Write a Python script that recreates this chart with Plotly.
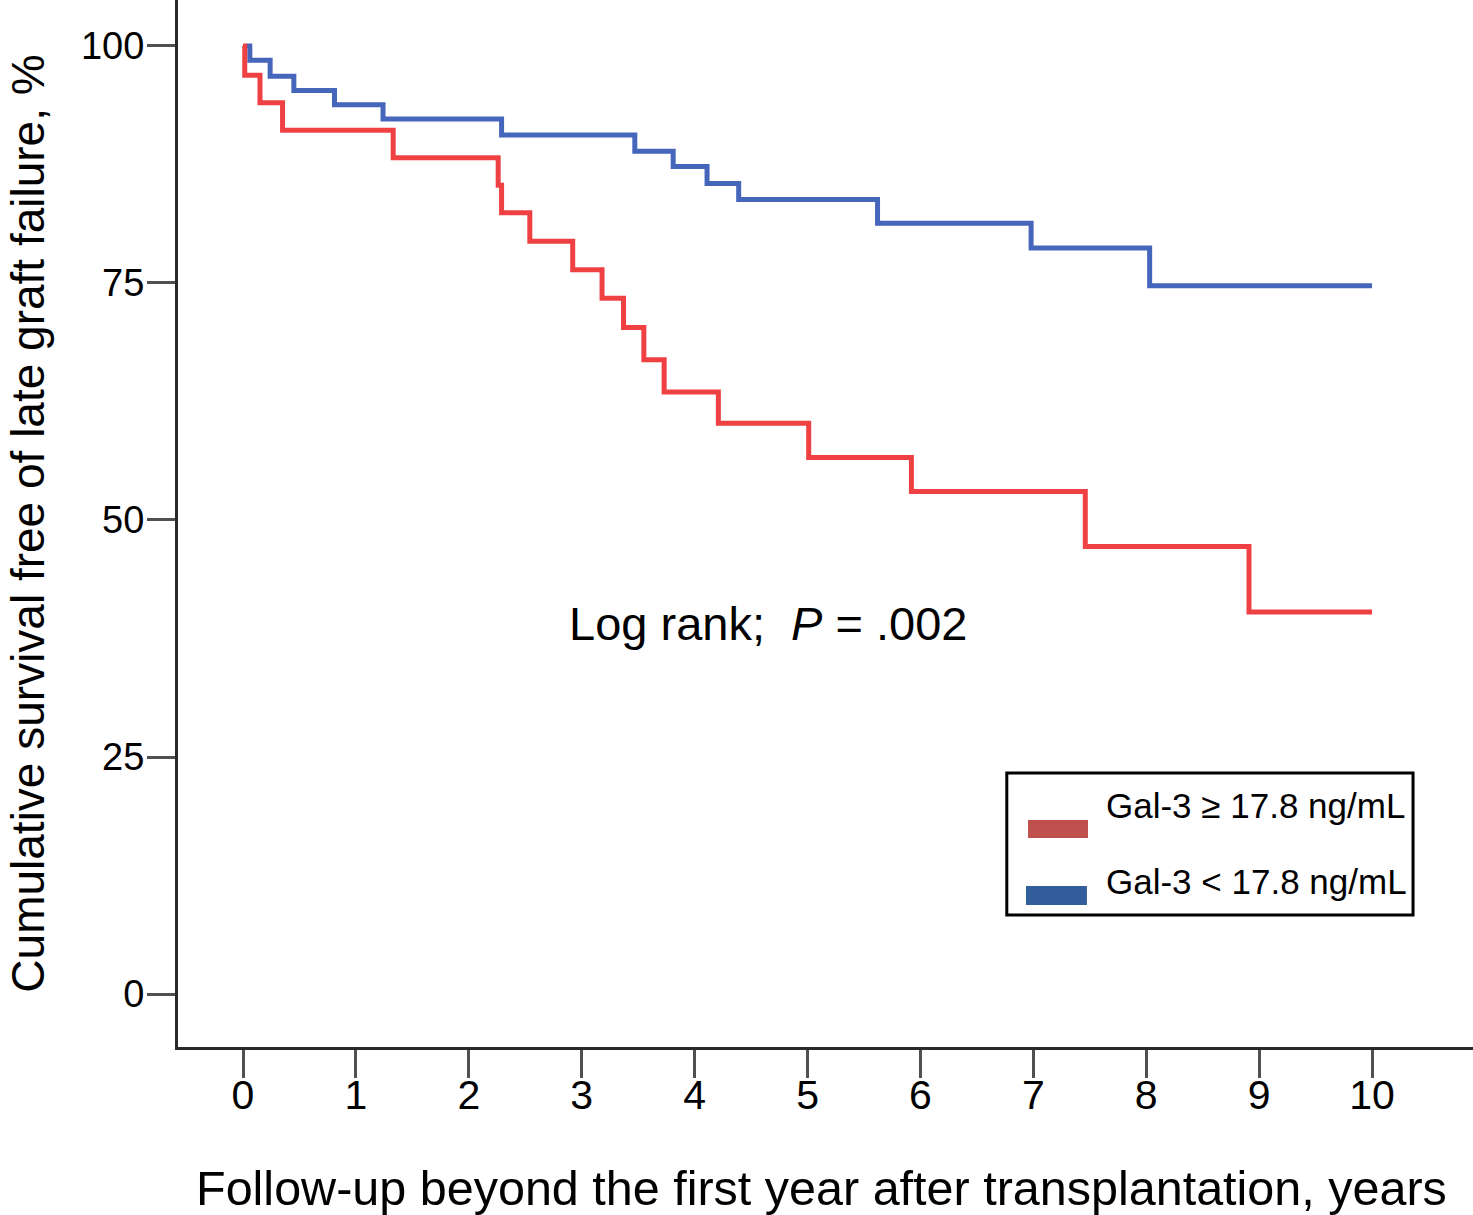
import plotly.graph_objects as go

# Data (Kaplan-Meier step curves)
high_x = [0, 0.015, 0.15, 0.35, 1.33, 2.26, 2.29, 2.54, 2.92, 3.18, 3.37, 3.55, 3.73, 4.21, 5.01, 5.92, 7.46, 8.91, 10.0]
high_y = [100, 96.9, 94.0, 91.1, 88.2, 85.3, 82.4, 79.4, 76.4, 73.4, 70.3, 66.9, 63.5, 60.2, 56.6, 53.0, 47.2, 40.3, 40.3]

low_x = [0.03, 0.06, 0.24, 0.45, 0.81, 1.24, 2.29, 3.47, 3.81, 4.11, 4.39, 5.62, 6.98, 8.03, 10.0]
low_y = [100, 98.5, 96.8, 95.3, 93.8, 92.3, 90.6, 88.9, 87.3, 85.5, 83.8, 81.3, 78.7, 74.7, 74.7]

x_ticks = [0, 1, 2, 3, 4, 5, 6, 7, 8, 9, 10]
y_ticks = [0, 25, 50, 75, 100]

label_high = "Gal-3 ≥ 17.8 ng/mL"
label_low = "Gal-3 < 17.8 ng/mL"

RED = "#EF4144"
BLUE = "#4666BB"
RED_SW = "#C0504D"
BLUE_SW = "#335E9C"
FONT = "Liberation Sans, Arial, sans-serif"

fig = go.Figure()
fig.add_trace(go.Scatter(x=low_x, y=low_y, mode="lines", line=dict(color=BLUE, width=5, shape="hv"),
                         name=label_low, showlegend=False))
fig.add_trace(go.Scatter(x=high_x, y=high_y, mode="lines", line=dict(color=RED, width=5, shape="hv"),
                         name=label_high, showlegend=False))

fig.update_layout(
    width=1473, height=1215,
    margin=dict(l=178, r=0, t=0, b=168),
    plot_bgcolor="white", paper_bgcolor="white",
    font=dict(family=FONT, color="black"),
    showlegend=False,
)

fig.update_xaxes(
    range=[-0.576, 10.894], tickvals=x_ticks, ticktext=[str(v) for v in x_ticks],
    showgrid=False, zeroline=False, showline=True, linecolor="#2a2a2a", linewidth=3,
    ticks="outside", ticklen=28, tickwidth=3, tickcolor="#505050",
    tickfont=dict(size=41, family=FONT, color="black"), ticklabelstandoff=-18,
)
fig.update_yaxes(
    range=[-5.59, 104.85], tickvals=y_ticks, ticktext=[str(v) for v in y_ticks],
    showgrid=False, zeroline=False, showline=True, linecolor="#2a2a2a", linewidth=3,
    ticks="outside", ticklen=28, tickwidth=3, tickcolor="#505050",
    tickfont=dict(size=38, family=FONT, color="black"), ticklabelstandoff=-5,
)

# Axis titles
fig.add_annotation(text="Cumulative survival free of late graft failure, %", xref="paper", yref="paper",
                   x=-0.1165, y=0.5, textangle=-90, showarrow=False, xanchor="center", yanchor="middle",
                   font=dict(size=46, family=FONT, color="black"))
fig.add_annotation(text="Follow-up beyond the first year after transplantation, years", xref="paper", yref="paper",
                   x=0.497, y=-0.1347, showarrow=False, xanchor="center", yanchor="middle",
                   font=dict(size=48.5, family=FONT, color="black"))

# Log rank annotation
fig.add_annotation(text="Log rank;&nbsp; <i>P</i> = .002", xref="x", yref="y", x=4.65, y=39.1,
                   showarrow=False, xanchor="center", yanchor="middle",
                   font=dict(size=47, family=FONT, color="black"))

# Legend box drawn manually
fig.add_shape(type="rect", xref="paper", yref="paper", x0=0.640, x1=0.9537, y0=0.126, y1=0.2617,
              line=dict(color="black", width=3), fillcolor="white")
fig.add_shape(type="rect", xref="paper", yref="paper", x0=0.6564, x1=0.7027, y0=0.1996, y1=0.2168,
              line=dict(width=0), fillcolor=RED_SW)
fig.add_shape(type="rect", xref="paper", yref="paper", x0=0.6548, x1=0.7019, y0=0.1356, y1=0.1538,
              line=dict(width=0), fillcolor=BLUE_SW)
fig.add_annotation(text=label_high, xref="paper", yref="paper", x=0.7151, y=0.2302, showarrow=False,
                   xanchor="left", yanchor="middle", font=dict(size=35, family=FONT, color="black"))
fig.add_annotation(text=label_low, xref="paper", yref="paper", x=0.7151, y=0.1585, showarrow=False,
                   xanchor="left", yanchor="middle", font=dict(size=35, family=FONT, color="black"))

fig.write_html("out.html", config={"displayModeBar": False},
               post_script="document.body.style.margin='0px';document.body.style.overflow='hidden';")
